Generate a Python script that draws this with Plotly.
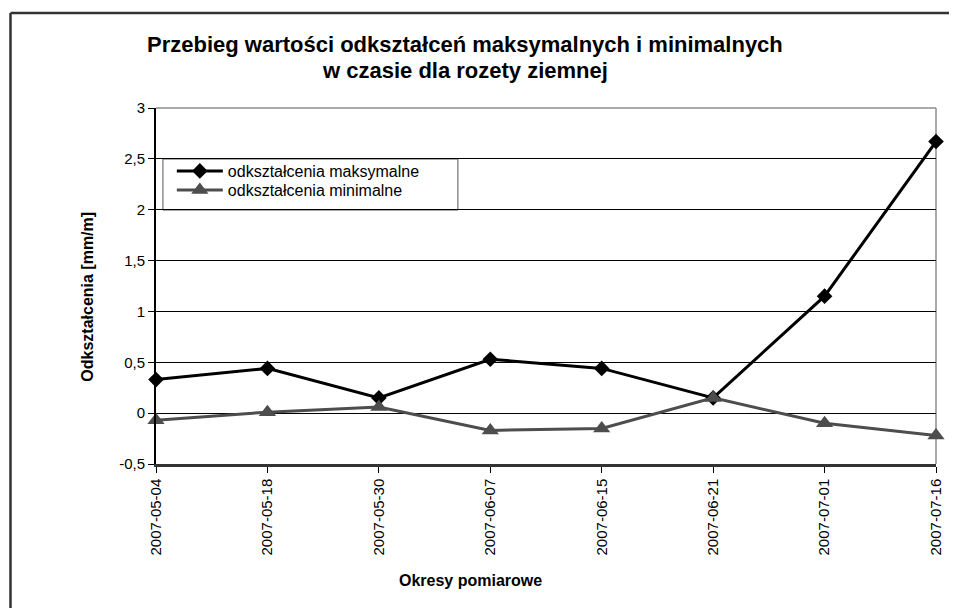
import plotly.graph_objects as go

dates = ["2007-05-04", "2007-05-18", "2007-05-30", "2007-06-07",
         "2007-06-15", "2007-06-21", "2007-07-01", "2007-07-16"]
odk_max = [0.33, 0.44, 0.15, 0.53, 0.44, 0.15, 1.15, 2.67]
odk_min = [-0.07, 0.01, 0.06, -0.17, -0.15, 0.15, -0.10, -0.22]
y_tickvals = [-0.5, 0, 0.5, 1, 1.5, 2, 2.5, 3]
y_ticktext = ["-0,5", "0", "0,5", "1", "1,5", "2", "2,5", "3"]

# the page body has an 8px margin; work in reference-pixel coordinates
OFF = 8
W, H = 957 - 2 * OFF, 616 - 2 * OFF
L, R, T, B = 156, 944, 108, 464  # plot area in reference pixels
pw, ph = R - L, B - T


def px(x):
    return (x - L) / pw


def py(y):
    return (B - y) / ph


FONT = "Liberation Sans, Arial, sans-serif"

fig = go.Figure()
fig.add_trace(go.Scatter(
    x=dates, y=odk_max, mode="lines+markers", name="odkształcenia maksymalne",
    line=dict(color="#000000", width=3),
    marker=dict(symbol="diamond", size=12, color="#000000"),
    cliponaxis=False, legend="legend",
))
fig.add_trace(go.Scatter(
    x=dates, y=odk_min, mode="lines+markers", name="odkształcenia minimalne",
    line=dict(color="#4d4d4d", width=3),
    marker=dict(symbol="triangle-up", size=15, color="#4d4d4d"),
    cliponaxis=False, legend="legend2",
))

shapes = [
    # outer chart border: left and top edges (right/bottom lie off-page)
    dict(type="line", xref="paper", yref="paper", x0=px(9), y0=py(13),
         x1=px(9), y1=py(640), line=dict(color="#333333", width=2.5), layer="below"),
    dict(type="line", xref="paper", yref="paper", x0=px(9), y0=py(13),
         x1=px(990), y1=py(13), line=dict(color="#333333", width=2.5), layer="below"),
    # plot area top/right border
    dict(type="line", xref="paper", yref="paper", x0=0, y0=1, x1=1, y1=1,
         line=dict(color="#8c8c8c", width=1.5), layer="between"),
    dict(type="line", xref="paper", yref="paper", x0=1, y0=0, x1=1, y1=1,
         line=dict(color="#8c8c8c", width=1.5), layer="between"),
    # legend box
    dict(type="rect", xref="paper", yref="paper", x0=px(163), y0=py(210),
         x1=px(461), y1=py(159), line=dict(color="#555555", width=1),
         fillcolor="#ffffff", layer="between"),
]

annotations = [
    dict(text="<b>Przebieg wartości odkształceń maksymalnych i minimalnych</b>",
         xref="paper", yref="paper", x=px(468), y=py(44), xanchor="center",
         yanchor="middle", showarrow=False, font=dict(family=FONT, size=22, color="#000")),
    dict(text="<b>w czasie dla rozety ziemnej</b>",
         xref="paper", yref="paper", x=px(468), y=py(70), xanchor="center",
         yanchor="middle", showarrow=False, font=dict(family=FONT, size=22, color="#000")),
    dict(text="<b>Odkształcenia [mm/m]</b>", xref="paper", yref="paper",
         x=px(86), y=py(297), xanchor="center", yanchor="middle", textangle=-90,
         showarrow=False, font=dict(family=FONT, size=16, color="#000")),
    dict(text="<b>Okresy pomiarowe</b>", xref="paper", yref="paper",
         x=px(474), y=py(580), xanchor="center", yanchor="middle",
         showarrow=False, font=dict(family=FONT, size=16, color="#000")),
]

leg_common = dict(xanchor="left", yanchor="top", bgcolor="rgba(0,0,0,0)",
                  borderwidth=0, font=dict(family=FONT, size=16, color="#000"),
                  itemwidth=46)

fig.update_layout(
    width=W, height=H,
    margin=dict(l=L - OFF, r=(957 - OFF) - R, t=T - OFF, b=(616 - OFF) - B, pad=0),
    paper_bgcolor="#ffffff", plot_bgcolor="#ffffff",
    font=dict(family=FONT, size=15, color="#000000"),
    showlegend=True,
    legend=dict(x=px(172), y=py(154), **leg_common),
    legend2=dict(x=px(172), y=py(173), **leg_common),
    shapes=shapes,
    annotations=annotations,
    xaxis=dict(
        type="category", range=[0, len(dates) - 1], showgrid=False,
        showline=True, linecolor="#333333", linewidth=2.5,
        ticks="outside", ticklen=6, tickcolor="#000", tickwidth=1,
        tickangle=-90, tickfont=dict(family=FONT, size=15, color="#000"),
        zeroline=False, fixedrange=True,
    ),
    yaxis=dict(
        range=[-0.5, 3], tickvals=y_tickvals, ticktext=y_ticktext,
        showgrid=True, gridcolor="#000000", gridwidth=1,
        showline=True, linecolor="#000000", linewidth=2,
        ticks="outside", ticklen=6, tickcolor="#000", tickwidth=1,
        tickfont=dict(family=FONT, size=15, color="#000"),
        zeroline=False, fixedrange=True,
    ),
)

fig.write_html("out.html")
